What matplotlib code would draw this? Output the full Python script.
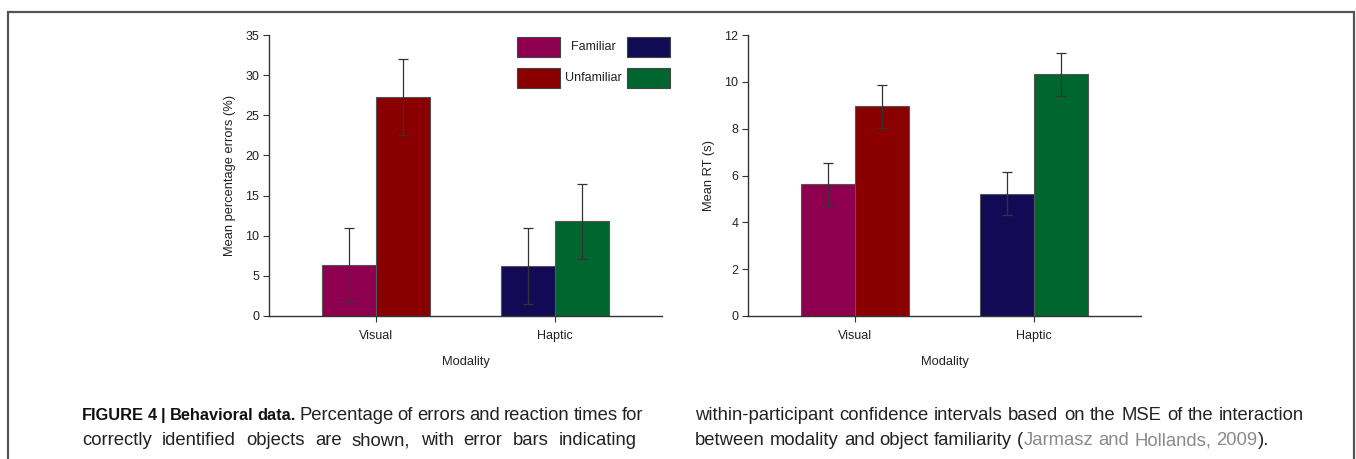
import matplotlib
matplotlib.use("Agg")
import matplotlib.pyplot as plt
from matplotlib.patches import Rectangle
import numpy as np

plt.rcParams['font.family'] = ['Liberation Sans', 'DejaVu Sans']

modality = ['Visual', 'Haptic']
# errors (%): familiar / unfamiliar per modality
err_familiar = [6.3, 6.2]
err_unfamiliar = [27.3, 11.8]
err_ci = 4.7
# reaction times (s)
rt_familiar = [5.62, 5.22]
rt_unfamiliar = [8.95, 10.33]
rt_ci = 0.92

col_familiar = ['#8E004F', '#130A55']
col_unfamiliar = ['#8A0000', '#006630']

fig = plt.figure(figsize=(13.56, 4.59), dpi=100)

W, H = 1356, 459
def fx(px):
    return px / W
def fy(py):
    return 1 - py / H

axL = fig.add_axes([fx(269), fy(316), fx(393), fy(35) - fy(316)])
axR = fig.add_axes([fx(748), fy(316), fx(393), fy(35) - fy(316)])

x = np.arange(len(modality))
bw = 0.303
tc = '#222222'
fs = 9
fl = 9.3

def draw(ax, fam, unf, ci, ymax, step, ylabel):
    ax.bar(x - bw / 2, fam, bw, color=col_familiar, edgecolor='#555555', linewidth=0.8, zorder=2)
    ax.bar(x + bw / 2, unf, bw, color=col_unfamiliar, edgecolor='#555555', linewidth=0.8, zorder=2)
    ax.errorbar(x - bw / 2, fam, yerr=ci, fmt='none', ecolor='#333333', elinewidth=0.9, capsize=3.5, capthick=0.9, zorder=3)
    ax.errorbar(x + bw / 2, unf, yerr=ci, fmt='none', ecolor='#333333', elinewidth=0.9, capsize=3.5, capthick=0.9, zorder=3)
    ax.set_xlim(-0.6, 1.6)
    ax.set_ylim(0, ymax)
    ax.set_yticks(np.arange(0, ymax + 0.01, step))
    ax.set_xticks(x)
    ax.set_xticklabels(modality)
    for s in ['top', 'right']:
        ax.spines[s].set_visible(False)
    for s in ['left', 'bottom']:
        ax.spines[s].set_color('#333333')
        ax.spines[s].set_linewidth(1.0)
    ax.tick_params(axis='both', direction='out', length=4, width=0.8, color='#333333',
                   labelsize=fs, labelcolor=tc, pad=3)
    ax.tick_params(axis='x', pad=6)
    ax.set_ylabel(ylabel, fontsize=fl, color=tc, labelpad=7)
    ax.set_xlabel('Modality', fontsize=fl, color=tc, labelpad=10)

draw(axL, err_familiar, err_unfamiliar, err_ci, 35, 5, 'Mean percentage errors (%)')
draw(axR, rt_familiar, rt_unfamiliar, rt_ci, 12, 2, 'Mean RT (s)')

# legend drawn by hand: patch - label - patch
leg_rows = [('Familiar', col_familiar[0], col_familiar[1], 47),
            ('Unfamiliar', col_unfamiliar[0], col_unfamiliar[1], 78)]
for label, c1, c2, yc in leg_rows:
    for x0, c in [(517, c1), (627, c2)]:
        fig.patches.append(Rectangle((fx(x0), fy(yc + 10)), fx(43), fy(yc - 10) - fy(yc + 10),
                                     transform=fig.transFigure, facecolor=c,
                                     edgecolor='#444444', linewidth=0.8))
    fig.text(fx(593), fy(yc), label, fontsize=fs, color=tc, ha='center', va='center')

# outer frame (open at bottom)
fig.patches.append(Rectangle((fx(8), fy(480)), fx(1346), fy(12) - fy(480),
                             transform=fig.transFigure, fill=False,
                             edgecolor='#555555', linewidth=1.6))

# caption, justified lines
fig.canvas.draw()
r = fig.canvas.get_renderer()
cs = 13.3

def put(txt, y0, weight, color, size):
    t = fig.text(0, fy(y0), txt, fontsize=size, fontweight=weight,
                 color=color, ha='left', va='baseline')
    return t, t.get_window_extent(renderer=r).width / W

def run(pieces, x0, y0, x1=None):
    # pieces: (text, weight, color, size); split into words and spread them out
    words = []
    for txt, weight, color, size in pieces:
        parts = txt.split(' ')
        for i, p in enumerate(parts):
            if p == '':
                continue
            glue = (i == 0 and not txt.startswith(' ') and len(words) > 0)
            words.append([p, weight, color, size, glue])
    placed = []
    for w in words:
        t, wd = put(w[0], y0, w[1], w[2], w[3])
        placed.append((t, wd, w[4]))
    sp = 0.278 * cs / 72 * 100 / W
    ngaps = sum(1 for p in placed[1:] if not p[2])
    total = sum(p[1] for p in placed)
    if x1 is not None and ngaps > 0:
        sp = (fx(x1) - fx(x0) - total) / ngaps
    xp = fx(x0)
    for i, (t, wd, glue) in enumerate(placed):
        if i > 0 and not glue:
            xp += sp
        t.set_x(xp)
        xp += wd

reg = '#222222'
run([('FIGURE 4 | Behavioral data.', 'bold', '#111111', 11.8),
     (' Percentage of errors and reaction times for', 'normal', reg, cs)], 82, 420, 643)
run([('correctly identified objects are shown, with error bars indicating', 'normal', reg, cs)], 82, 445, 637)
run([('within-participant confidence intervals based on the MSE of the interaction', 'normal', reg, cs)], 695, 420, 1304)
run([('between modality and object familiarity (', 'normal', reg, cs),
     ('Jarmasz and Hollands, 2009', 'normal', '#8a8a8a', cs),
     (').', 'normal', reg, cs)], 695, 445)

fig.savefig('out.png', dpi=100)
